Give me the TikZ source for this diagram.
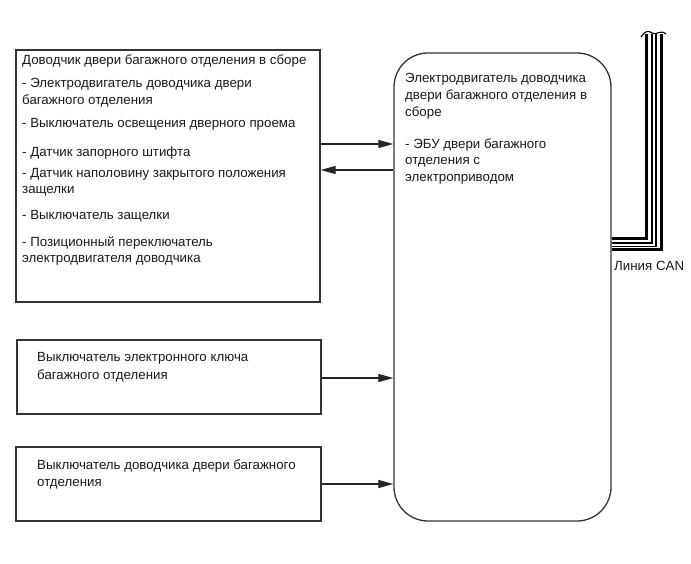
\documentclass[tikz,border=0pt]{standalone}
\usepackage{fontspec}
\setmainfont{Liberation Sans}
\usetikzlibrary{arrows.meta}
\begin{document}
\begin{tikzpicture}[x=1pt,y=-1pt,
  boxst/.style={draw=black!80,line width=1.3pt,rectangle,inner sep=0pt},
  txt/.style={anchor=west,inner sep=0pt,font=\fontsize{13.3}{15}\selectfont,text=black!90},
  arr/.style={draw=black!85,line width=1.2pt,-{Triangle[length=15pt,width=8pt]}},
  thickw/.style={draw=black,line width=3pt},
  thinw/.style={draw=black,line width=1.1pt}]
\useasboundingbox (0,0) rectangle (691,564);
% boxes
\node[boxst,minimum width=304pt,minimum height=252pt] (b1) at (168,176) {};
\node[boxst,minimum width=304pt,minimum height=74pt] (b2) at (169,377) {};
\node[boxst,minimum width=305pt,minimum height=74pt] (b3) at (168.5,484) {};
\node[boxst,rounded corners=34pt,minimum width=217pt,minimum height=468pt] (ecu) at (502.5,287) {};
% texts box 1
\node[txt] (t1) at (22,61) {Доводчик двери багажного отделения в сборе};
\node[txt] (t2) at (22,84) {- Электродвигатель доводчика двери};
\node[txt] (t3) at (22,101) {багажного отделения};
\node[txt] (t4) at (22,124) {- Выключатель освещения дверного проема};
\node[txt] (t5) at (22,153) {- Датчик запорного штифта};
\node[txt] (t6) at (22,174) {- Датчик наполовину закрытого положения};
\node[txt] (t7) at (22,191) {защелки};
\node[txt] (t8) at (22,216) {- Выключатель защелки};
\node[txt] (t9) at (22,243) {- Позиционный переключатель};
\node[txt] (t10) at (22,260) {электродвигателя доводчика};
% box 2,3
\node[txt] (u1) at (37,358) {Выключатель электронного ключа};
\node[txt] (u2) at (37,376) {багажного отделения};
\node[txt] (v1) at (37,466) {Выключатель доводчика двери багажного};
\node[txt] (v2) at (37,484) {отделения};
% ecu text
\node[txt] (e1) at (405,79) {Электродвигатель доводчика};
\node[txt] (e2) at (405,96) {двери багажного отделения в};
\node[txt] (e3) at (405,113) {сборе};
\node[txt] (e4) at (405,145) {- ЭБУ двери багажного};
\node[txt] (e5) at (405,162) {отделения с};
\node[txt] (e6) at (405,179) {электроприводом};
% arrows
\coordinate (a1) at (0,144);
\coordinate (a2) at (0,170);
\coordinate (a3) at (0,378);
\coordinate (a4) at (0,484);
\draw[arr] (b1.east |- a1) -- (ecu.west |- a1);
\draw[arr] (ecu.west |- a2) -- (b1.east |- a2);
\draw[arr] (b2.east |- a3) -- (ecu.west |- a3);
\draw[arr] (b3.east |- a4) -- (ecu.west |- a4);
% CAN lines
\coordinate (c0) at (0,239);
\coordinate (c1) at (0,243);
\coordinate (c2) at (0,246.5);
\coordinate (c3) at (0,250);
\draw[thickw] (ecu.east |- c0) -- (646,239) -- (646,34);
\draw[thinw] (ecu.east |- c1) -- (652,243) -- (652,34);
\draw[thinw] (ecu.east |- c2) -- (656,246.5) -- (656,34);
\draw[thickw] (ecu.east |- c3) -- (661,250) -- (661,34);
\draw[black,line width=1.1pt] (641,37) .. controls (645,31) and (648,30) .. (652,33) .. controls (656,36) and (660,29) .. (666,34);
\node[txt] (can) at (614,266) {Линия CAN};
\end{tikzpicture}
\end{document}
